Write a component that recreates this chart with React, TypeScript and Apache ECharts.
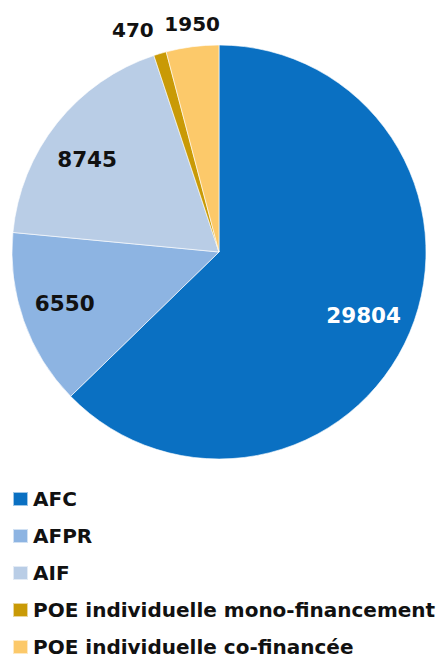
import React, { useEffect, useRef } from "react";
import * as echarts from "echarts";

const categories = [
  "AFC",
  "AFPR",
  "AIF",
  "POE individuelle mono-financement",
  "POE individuelle co-financée",
];
const values = [29804, 6550, 8745, 470, 1950];
const colors = ["#0a70c2", "#8db4e2", "#b9cde6", "#c99a06", "#fcc96a"];

const FONT = "DejaVu Sans";

export default function App() {
  const ref = useRef<HTMLDivElement>(null);

  useEffect(() => {
    document.body.style.margin = "0";
    if (!ref.current) return;
    const chart = echarts.init(ref.current, null, { renderer: "svg" });

    const baseData = categories.map((name, i) => ({
      name,
      value: values[i],
      itemStyle: { color: colors[i] },
    }));

    const bigOffsets = [[-6, 0], [0, -3], [-4, 9]];
    // labels of the three big sectors (placed inside, toward the rim)
    const bigLabelData = categories.map((name, i) => ({
      name,
      value: values[i],
      label: {
        show: i < 3,
        color: i === 0 ? "#ffffff" : "#111111",
        offset: i < 3 ? bigOffsets[i] : [0, 0],
      },
    }));

    // labels of the two small sectors (just outside the rim)
    const smallLabelData = categories.map((name, i) => ({
      name,
      value: values[i],
      label: {
        show: i >= 3,
        offset: i === 3 ? [-20, 0] : [3, 2],
      },
    }));

    const center = [219, 252];

    chart.setOption({
      animation: false,
      color: colors,
      legend: {
        orient: "vertical",
        left: 12,
        top: 489,
        height: 180,
        padding: 0,
        itemWidth: 15,
        itemHeight: 14,
        itemGap: 17,
        icon: "rect",
        selectedMode: false,
        data: categories,
        textStyle: {
          fontFamily: FONT,
          fontWeight: "bold",
          fontSize: 20,
          lineHeight: 20,
          color: "#111111",
        },
      },
      series: [
        {
          type: "pie",
          center,
          radius: [0, 207],
          startAngle: 90,
          clockwise: true,
          silent: true,
          label: { show: false },
          labelLine: { show: false },
          itemStyle: {
            borderColor: "rgba(255,255,255,0.6)",
            borderWidth: 1,
          },
          data: baseData,
        },
        {
          type: "pie",
          center,
          radius: [114, 207],
          startAngle: 90,
          clockwise: true,
          silent: true,
          avoidLabelOverlap: false,
          itemStyle: { color: "rgba(0,0,0,0)", borderWidth: 0 },
          label: {
            position: "inside",
            formatter: "{c}",
            fontFamily: FONT,
            fontWeight: "bold",
            fontSize: 21.5,
          },
          labelLine: { show: false },
          data: bigLabelData,
        },
        {
          type: "pie",
          center,
          radius: [207, 251],
          startAngle: 90,
          clockwise: true,
          silent: true,
          avoidLabelOverlap: false,
          itemStyle: { color: "rgba(0,0,0,0)", borderWidth: 0 },
          label: {
            position: "inside",
            formatter: "{c}",
            fontFamily: FONT,
            fontWeight: "bold",
            fontSize: 20,
            color: "#111111",
          },
          labelLine: { show: false },
          data: smallLabelData,
        },
      ],
    });

    return () => chart.dispose();
  }, []);

  return (
    <div
      ref={ref}
      style={{ position: "fixed", left: 0, top: 0, width: 436, height: 659, background: "#ffffff" }}
    />
  );
}
